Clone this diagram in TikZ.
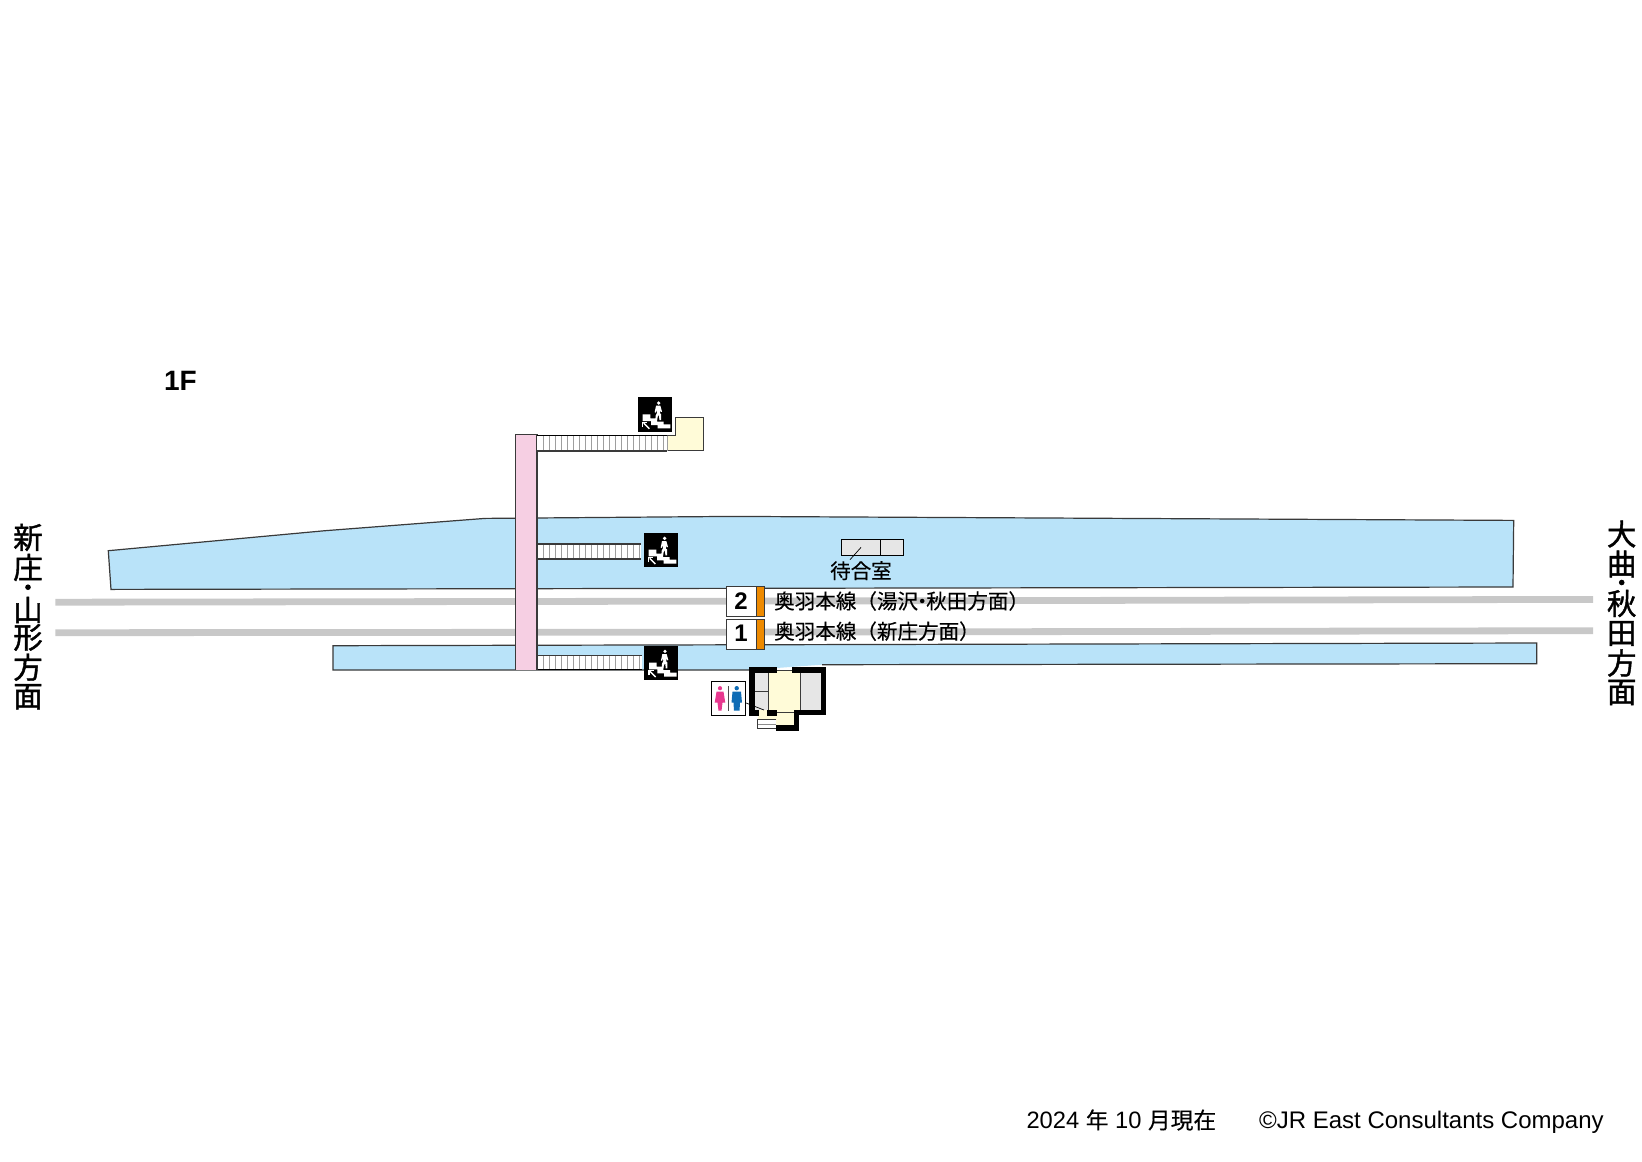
\documentclass[tikz,border=0pt]{standalone}
\usepackage{fontspec}
\setmainfont{Liberation Sans}
\newfontfamily\cjk[FakeBold=0.3]{Noto Sans CJK JP}
\newfontfamily\cjkb[FakeBold=1.4]{Noto Sans CJK JP}
\definecolor{plat}{HTML}{B9E3F9}
\definecolor{pinkb}{HTML}{F6CFE3}
\definecolor{creamb}{HTML}{FFFBD8}
\definecolor{trk}{HTML}{C8C8C8}
\definecolor{orng}{HTML}{EE8A00}
\definecolor{roomg}{HTML}{E6E6E6}
\definecolor{wcpink}{HTML}{E8388F}
\definecolor{wcblue}{HTML}{0F6CB5}
\definecolor{edge}{HTML}{3A3A3A}
\tikzset{
  outl/.style={draw=edge,line width=1.2pt},
  trackline/.style={draw=trk,line width=6.8pt},
  wall/.style={fill=black,draw=none},
  vchar/.style={font=\cjkb\fontsize{29.5}{29.5}\selectfont,inner sep=0pt,text=black},
  lbl/.style={font=\cjk\fontsize{20.55}{20.55}\selectfont,inner sep=0pt,anchor=west,text=black},
  foot/.style={font=\fontsize{24}{24}\selectfont,inner sep=0pt,anchor=west,text=black},
  numb/.style={font=\bfseries\fontsize{24}{24}\selectfont,inner sep=0pt,text=black},
}
\newcommand{\stairicon}[2]{%
\begin{scope}[shift={(#1,#2)},x=0.3333pt,y=-0.3333pt]
  \fill[black] (0,0) rectangle (103,103);
  \fill[white] (15,51) -- (38,51) -- (38,63) -- (58,63) -- (58,73) -- (78,73) -- (78,81) -- (98,81) -- (98,93) -- (60,93) -- (60,83) -- (40,83) -- (40,71) -- (15,71) -- cycle;
  \fill[white] (63,17) circle (5.5);
  \fill[white] (55,25) -- (68,25) -- (73,43) -- (69,44) -- (66,36) -- (67,48) -- (70,50) -- (70,68) -- (65,68) -- (64,53) -- (60,58) -- (58,68) -- (53,66) -- (54,54) -- (58,46) -- (57,38) -- (54,46) -- (51,44) -- cycle;
  \draw[black,line width=1.9pt] (12,78) -- (40,78);
  \draw[white,line width=1.5pt] (35,94) -- (18,77);
  \draw[white,line width=1.5pt] (15,89) -- (15,75) -- (29,75);
\end{scope}}
\newcommand{\hatch}[4]{% x1 x2 y1 y2
  \fill[white] (#1,#3) rectangle (#2,#4);
  \pgfmathsetmacro{\nxa}{#1+6}
  \pgfmathsetmacro{\nxb}{#1+12}
  \foreach \hx in {\nxa,\nxb,...,#2} {\draw[draw=black!38,line width=0.7pt] (\hx,#3) -- (\hx,#4);}
}
\begin{document}
\begin{tikzpicture}[x=1pt,y=-1pt]
\useasboundingbox (0,0) rectangle (1642,1162);
\fill[white] (0,0) rectangle (1642,1162);
\begin{scope}[shift={(0,0.7)}]
% tracks
\draw[trackline] (55.3,601.5) -- (700,600.5) -- (1593,598.7);
\draw[trackline] (55.3,632) -- (700,631.5) -- (1593,630);
% platforms
\fill[plat] (108.3,550) -- (325,530) -- (485,517.7) -- (733,515.7) -- (1513.7,519.7) -- (1513,586.3) -- (111,588.7) -- cycle;
\draw[outl] (108.3,550) -- (325,530) -- (485,517.7) -- (733,515.7) -- (1513.7,519.7) -- (1513,586.3) -- (111,588.7) -- cycle;
\fill[plat] (333,645) -- (1536.7,642.3) -- (1536.7,663) -- (822,664) -- (749,669.3) -- (333,669.3) -- cycle;
\draw[outl] (749,669.3) -- (333,669.3) -- (333,645) -- (1536.7,642.3) -- (1536.7,663) -- (822,664);
% pink bridge
\fill[pinkb] (515.7,433.7) rectangle (537,669);
\draw[outl] (515.7,669) -- (515.7,433.7) -- (537,433.7) -- (537,669);
% cream top
\fill[creamb] (667,435) -- (675.7,435) -- (675.7,416.7) -- (703.7,416.7) -- (703.7,450) -- (667,450) -- cycle;
\draw[outl] (667,435) -- (675.7,435) -- (675.7,416.7) -- (703.7,416.7) -- (703.7,450) -- (667,450);
% stairs
\hatch{537}{667}{435}{450}
\draw[black,line width=1pt] (537,435) -- (667,435);
\draw[edge,line width=1.6pt] (537,450) -- (667,450);
\draw[black!38,line width=0.7pt] (667.5,435) -- (667.5,450);
\hatch{537.5}{641}{543}{558}
\draw[edge,line width=1.6pt] (537.5,543) -- (641,543);
\draw[edge,line width=1.6pt] (537.5,558) -- (641,558);
\hatch{537.7}{641.7}{654.7}{669}
\draw[edge,line width=1pt] (537.7,654.7) -- (641.7,654.7);
\draw[black,line width=1.2pt] (537.7,669) -- (641.7,669);
\stairicon{637.7}{396.7}
\stairicon{643.7}{532}
\stairicon{644}{645}
% waiting room
\fill[roomg] (841.3,538.3) rectangle (903.3,554.7);
\draw[black,line width=0.9pt] (841.3,538.3) rectangle (903.3,554.7);
\draw[black,line width=0.9pt] (880.3,538.3) -- (880.3,554.7);
\node[lbl,anchor=center] (wait) at (861,570) {待合室};
\coordinate (waitA) at (861,546.7);
\coordinate (waitB) at (850,559);
\draw[black,line width=0.7pt] (waitA) -- (waitB);
% platform number boxes
\fill[white] (726.7,585.8) rectangle (756.3,615.8);
\draw[edge,line width=1pt] (726.7,585.8) rectangle (756.3,615.8);
\fill[orng] (756.3,585.8) rectangle (764,615.8);
\draw[edge,line width=0.8pt] (756.3,585.8) rectangle (764,615.8);
\fill[white] (726.7,618.8) rectangle (756.3,648.5);
\draw[edge,line width=1pt] (726.7,618.8) rectangle (756.3,648.5);
\fill[orng] (756.3,618.8) rectangle (764,648.5);
\draw[edge,line width=0.8pt] (756.3,618.8) rectangle (764,648.5);
% station building interior
\fill[creamb] (768.7,669.3) rectangle (800.7,709.3);
\fill[creamb] (758.3,709) rectangle (793.7,725);
\fill[roomg] (755,672) rectangle (768.7,709.3);
\fill[roomg] (800.7,672) rectangle (820.7,709.3);
\draw[edge,line width=0.9pt] (755,690.7) -- (768.7,690.7);
\draw[edge,line width=1.2pt] (768.7,670) -- (768.7,709.3);
\draw[edge,line width=1.2pt] (800.7,670) -- (800.7,709.3);
\draw[edge,line width=0.9pt] (768.7,670) -- (800.7,670);
\draw[edge,line width=0.9pt] (776,712) -- (793.7,712);
% walls
\fill[wall] (749.3,666.3) rectangle (777.3,672);
\fill[wall] (749.3,666.3) rectangle (755,715);
\fill[wall] (749.3,709.3) rectangle (759.3,715);
\fill[wall] (767,709.3) rectangle (776.7,715);
\fill[wall] (792,666.3) rectangle (826,672);
\fill[wall] (820.7,666.3) rectangle (826,714.7);
\fill[wall] (793.7,709.3) rectangle (826,714.7);
\fill[wall] (793.7,709.3) rectangle (799,730);
\fill[wall] (776,724.7) rectangle (799,730);
% entrance steps
\fill[white] (757.7,719) rectangle (776,728);
\draw[edge,line width=0.8pt] (776,719) -- (757.7,719) -- (757.7,728) -- (776,728);
\draw[black!45,line width=0.7pt] (757.7,723.5) -- (776,723.5);
% toilet sign
\fill[white] (711.7,680.7) rectangle (745.3,714.7);
\draw[black,line width=0.8pt] (711.7,680.7) rectangle (745.3,714.7);
\fill[wcpink] (720,687.5) circle (2.1);
\fill[wcpink] (716.5,691) -- (723.5,691) -- (725.3,702) -- (722.5,702) -- (721.5,710) -- (718.5,710) -- (717.5,702) -- (714.7,702) -- cycle;
\fill[wcblue] (736.7,687.5) circle (2.2);
\fill[wcblue] (732.5,691) -- (741,691) -- (742,702) -- (740,702) -- (739.5,710) -- (734,710) -- (733.5,702) -- (731.5,702) -- cycle;
\draw[black!70,line width=1pt] (728.3,685.5) -- (728.3,710);
\coordinate (wcA) at (745.3,702);
\coordinate (wcB) at (764,709.3);
\draw[black,line width=0.7pt] (wcA) -- (wcB);
\end{scope}
% texts
\node[numb] (n2) at (741,601) {2};
\node[numb] (n1) at (741,633) {1};
\node[lbl] (l2) at (774,601) {奥羽本線（湯沢\kern-0.3em・\kern-0.3em秋田方面）};
\node[lbl] (l1) at (774,631.2) {奥羽本線（新庄方面）};
\node[font=\bfseries\fontsize{28}{28}\selectfont,inner sep=0pt,text=black] (floor) at (180.5,380.5) {1F};
\node[vchar] (a1) at (28,537.5) {新};
\node[vchar] (a2) at (28,567.5) {庄};
\fill[black] (28,587.2) circle (2.8);
\node[vchar] (a3) at (28,610) {山};
\node[vchar] (a4) at (28,637.5) {形};
\node[vchar] (a5) at (28,667.2) {方};
\node[vchar] (a6) at (28,696.7) {面};
\node[vchar] (b1) at (1621.7,534) {大};
\node[vchar] (b2) at (1621.7,564) {曲};
\fill[black] (1621.7,582.5) circle (2.8);
\node[vchar] (b3) at (1621.7,603.5) {秋};
\node[vchar] (b4) at (1621.7,633.5) {田};
\node[vchar] (b5) at (1621.7,663) {方};
\node[vchar] (b6) at (1621.7,692.5) {面};
\node[foot,font=\fontsize{23.7}{23.7}\selectfont] (f1) at (1026.3,1120) {2024 {\cjk\fontsize{22.7}{22.7}\selectfont 年} 10 {\cjk\fontsize{22.7}{22.7}\selectfont 月現在}};
\node[foot] (f2) at (1259,1122) {©JR East Consultants Company};
\end{tikzpicture}
\end{document}
